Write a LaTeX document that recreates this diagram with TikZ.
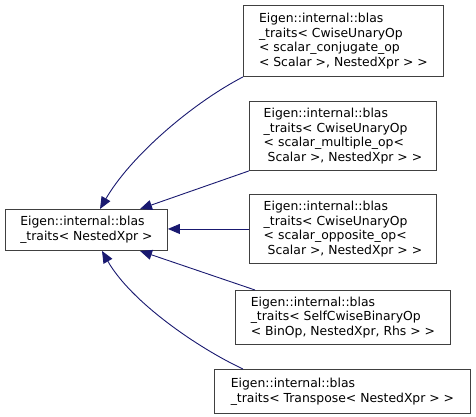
\documentclass[tikz,border=0pt]{standalone}
\usepackage{fontspec}
\setmainfont{DejaVu Sans}
\usetikzlibrary{arrows.meta}
\definecolor{edgeblue}{HTML}{191970}
\definecolor{boxline}{HTML}{404040}
\tikzset{
  box/.style={draw=boxline, line width=0.9pt, fill=white, align=left, inner sep=0pt,
    anchor=north west, font=\fontsize{12.4}{14.6}\selectfont},
  arr/.style={draw=edgeblue, line width=0.9pt,
    -{Triangle[length=12pt,width=10pt]}},
}
\begin{document}
\begin{tikzpicture}[x=1pt,y=-1pt]
\useasboundingbox (0,0) rectangle (476,417);
\node[box, minimum width=162pt, minimum height=41pt] (base) at (5,209)
  {Eigen::internal::blas\\\_traits< NestedXpr >};
\node[box, minimum width=200pt, minimum height=71pt] (b1) at (243,5)
  {Eigen::internal::blas\\\_traits< CwiseUnaryOp\\< scalar\_conjugate\_op\\< Scalar >, NestedXpr > >};
\node[box, minimum width=187pt, minimum height=69pt] (b2) at (249,101)
  {Eigen::internal::blas\\\_traits< CwiseUnaryOp\\< scalar\_multiple\_op<\\\hspace*{0.32em}Scalar >, NestedXpr > >};
\node[box, minimum width=187pt, minimum height=69pt] (b3) at (249,194)
  {Eigen::internal::blas\\\_traits< CwiseUnaryOp\\< scalar\_opposite\_op<\\\hspace*{0.32em}Scalar >, NestedXpr > >};
\node[box, minimum width=215pt, minimum height=54pt] (b4) at (235,290)
  {Eigen::internal::blas\\\_traits< SelfCwiseBinaryOp\\< BinOp, NestedXpr, Rhs > >};
\node[box, minimum width=256pt, minimum height=44pt] (b5) at (214,369)
  {Eigen::internal::blas\\\_traits< Transpose< NestedXpr > >};

\draw[arr] (b1.south west) .. controls (191,104) and (130,157) .. ([xshift=95pt]base.north west);
\draw[arr] (b2.south west) -- ([xshift=135pt]base.north west);
\draw[arr] (b3.west) -- (b3.west -| base.east);
\draw[arr] ([xshift=20pt]b4.north west) -- ([xshift=135pt]base.south west);
\draw[arr] ([xshift=29pt]b5.north west) .. controls (198,348) and (131,302) .. ([xshift=97pt]base.south west);
\end{tikzpicture}
\end{document}
